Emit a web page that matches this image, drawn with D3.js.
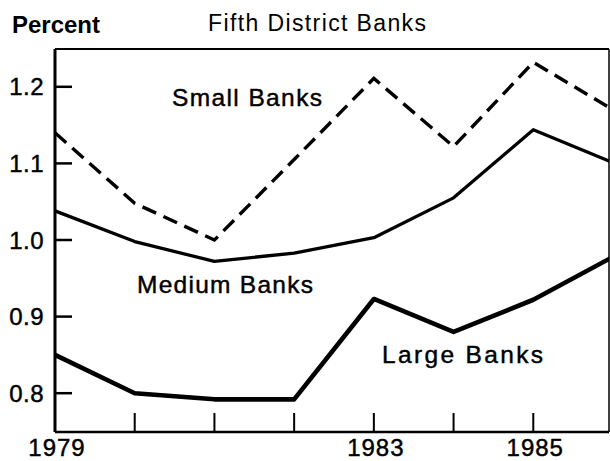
<!DOCTYPE html>
<html>
<head>
<meta charset="utf-8">
<script src="https://cdn.jsdelivr.net/npm/d3@7"></script>
<style>
  body { margin: 0; background: #fff; }
  svg { display: block; font-family: "Liberation Sans", Arial, sans-serif; }
  .heavy { stroke: #000; stroke-width: 0.45px; }
</style>
</head>
<body>
<div id="chart"></div>
<script>
const years = [1979, 1980, 1981, 1982, 1983, 1984, 1985, 1986];
const smallBanks = [1.14, 1.048, 1.0, 1.105, 1.211, 1.122, 1.232, 1.17];
const mediumBanks = [1.038, 0.998, 0.972, 0.983, 1.003, 1.055, 1.144, 1.101];
const largeBanks = [0.85, 0.8, 0.792, 0.792, 0.923, 0.88, 0.922, 0.978];
const yTicks = [0.8, 0.9, 1.0, 1.1, 1.2];
const xTickYears = [1980, 1981, 1982, 1983, 1984, 1985];
const xLabelYears = [1979, 1983, 1985];

const width = 610, height = 461;
const plotLeft = 55, plotRight = 609, plotTop = 49, plotBottom = 432;

const svg = d3.select("#chart").append("svg")
  .attr("width", width)
  .attr("height", height);

const x = d3.scaleLinear().domain([1979, 1986]).range([plotLeft, 613]);
const y = d3.scaleLinear().domain([0.75, 1.25]).range([431.5, 48.5]);

// clip so lines end at the right frame
svg.append("clipPath").attr("id", "plot")
  .append("rect").attr("x", plotLeft).attr("y", 0)
  .attr("width", plotRight - plotLeft).attr("height", height);

// frame
svg.append("line").attr("x1", plotLeft).attr("x2", plotRight).attr("y1", plotTop).attr("y2", plotTop)
  .attr("stroke", "#000").attr("stroke-width", 2);
svg.append("line").attr("x1", plotRight).attr("x2", plotRight).attr("y1", plotTop).attr("y2", plotBottom)
  .attr("stroke", "#000").attr("stroke-width", 1.5);
svg.append("line").attr("x1", plotLeft).attr("x2", plotRight).attr("y1", plotBottom).attr("y2", plotBottom)
  .attr("stroke", "#000").attr("stroke-width", 2.5);
svg.append("line").attr("x1", plotLeft).attr("x2", plotLeft).attr("y1", plotTop).attr("y2", plotBottom)
  .attr("stroke", "#000").attr("stroke-width", 3);

// y ticks (inward)
svg.selectAll(".ytick").data(yTicks).join("line")
  .attr("x1", plotLeft).attr("x2", plotLeft + 17)
  .attr("y1", d => y(d)).attr("y2", d => y(d))
  .attr("stroke", "#000").attr("stroke-width", 2.5);
svg.selectAll(".ylab").data(yTicks).join("text")
  .attr("class", "heavy")
  .attr("x", 44).attr("y", d => y(d)).attr("dy", "0.36em")
  .attr("text-anchor", "end").attr("font-size", 24)
  .attr("letter-spacing", 0.5)
  .text(d => d.toFixed(1));

// x ticks (upward)
svg.selectAll(".xtick").data(xTickYears).join("line")
  .attr("x1", d => x(d)).attr("x2", d => x(d))
  .attr("y1", plotBottom).attr("y2", plotBottom - 19)
  .attr("stroke", "#000").attr("stroke-width", 2);
svg.selectAll(".xlab").data(xLabelYears).join("text")
  .attr("class", "heavy")
  .attr("x", d => x(d) + 2).attr("y", 456)
  .attr("text-anchor", "middle").attr("font-size", 24)
  .attr("letter-spacing", 1)
  .text(d => d);

// lines
const line = d3.line().x((d, i) => x(years[i])).y(d => y(d));
const g = svg.append("g").attr("clip-path", "url(#plot)");
g.append("path").datum(smallBanks).attr("d", line)
  .attr("fill", "none").attr("stroke", "#000").attr("stroke-width", 3.4)
  .attr("stroke-dasharray", "15,8");
g.append("path").datum(mediumBanks).attr("d", line)
  .attr("fill", "none").attr("stroke", "#000").attr("stroke-width", 3.3)
  .attr("stroke-linejoin", "round");
g.append("path").datum(largeBanks).attr("d", line)
  .attr("fill", "none").attr("stroke", "#000").attr("stroke-width", 4.6)
  .attr("stroke-linejoin", "round");

// titles
svg.append("text").attr("x", 12).attr("y", 33)
  .attr("font-size", 24).attr("font-weight", "bold")
  .attr("textLength", 88).attr("lengthAdjust", "spacing").text("Percent");
svg.append("text").attr("x", 208).attr("y", 31)
  .attr("font-size", 23)
  .attr("textLength", 218).attr("lengthAdjust", "spacing").text("Fifth District Banks");

// series labels
const labelStyle = (sel, w) => sel.attr("class", "heavy").attr("font-size", 24.5)
  .attr("textLength", w).attr("lengthAdjust", "spacing");
svg.append("text").attr("x", 172).attr("y", 106).call(labelStyle, 150).text("Small Banks");
svg.append("text").attr("x", 137).attr("y", 293).call(labelStyle, 176).text("Medium Banks");
svg.append("text").attr("x", 382).attr("y", 363).call(labelStyle, 161).text("Large Banks");
</script>
</body>
</html>
